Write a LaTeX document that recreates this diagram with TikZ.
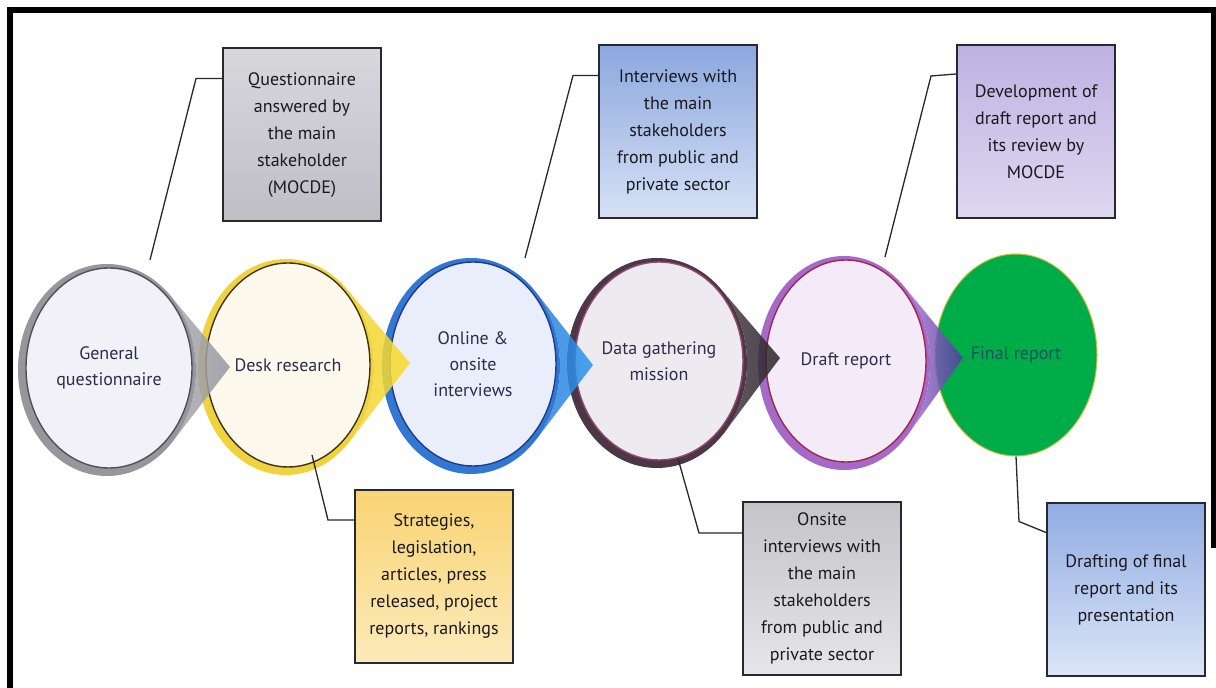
\documentclass[tikz,border=0pt]{standalone}
\usepackage{fontspec}
\setmainfont{PT Sans}
\usetikzlibrary{shapes.geometric}

\definecolor{ringgray}{RGB}{150,150,156}
\definecolor{ringyellow}{RGB}{240,210,60}
\definecolor{ringblue}{RGB}{50,120,210}
\definecolor{ringdark}{RGB}{75,55,70}
\definecolor{ringpurple}{RGB}{165,105,200}
\definecolor{genfill}{RGB}{241,241,247}
\definecolor{deskfill}{RGB}{253,249,236}
\definecolor{onlinefill}{RGB}{234,238,250}
\definecolor{datafill}{RGB}{237,234,240}
\definecolor{draftfill}{RGB}{243,236,248}
\definecolor{finalfill}{RGB}{0,172,72}
\definecolor{genline}{RGB}{80,80,90}
\definecolor{deskline}{RGB}{60,50,30}
\definecolor{onlineline}{RGB}{30,60,140}
\definecolor{dataline}{RGB}{150,70,110}
\definecolor{draftline}{RGB}{160,40,80}
\definecolor{finalline}{RGB}{200,190,60}
\definecolor{stagetext}{RGB}{45,45,75}
\definecolor{finaltext}{RGB}{25,85,90}
\definecolor{boxtext}{RGB}{25,25,30}
\definecolor{boxline}{RGB}{40,40,50}
\definecolor{leadline}{RGB}{40,40,40}

\begin{document}
\begin{tikzpicture}[x=1pt,y=1pt,
  stage/.style={ellipse,draw=#1,line width=1.4pt,inner sep=0pt,align=center,
    text=stagetext,font=\fontsize{18}{26}\selectfont},
  infobox/.style={rectangle,draw=boxline,line width=2pt,minimum width=158pt,
    minimum height=173pt,inner sep=2pt,align=center,text=boxtext,
    font=\fontsize{18}{27}\selectfont},
  leader/.style={draw=leadline,line width=1.3pt},
  tipshade/.style={fill opacity=0.85,draw=none}]
\useasboundingbox (0,0) rectangle (1216,688);
\fill[white] (0,0) rectangle (1216,688);
\draw[line width=6pt] (10,0) -- (10,678) -- (1214,678) -- (1214,140);

\fill[ringgray] (107,318) ellipse (89 and 106);
\node[stage=genline,fill=genfill,minimum width=166pt,minimum height=200pt] (qGen) at (109,320) {General\\questionnaire};
\fill[ringyellow] (286,321) ellipse (88 and 108);
\node[stage=deskline,fill=deskfill,minimum width=164pt,minimum height=204pt] (qDesk) at (288,323) {Desk research};
\fill[ringblue] (471,322) ellipse (89 and 108);
\node[stage=onlineline,fill=onlinefill,minimum width=166pt,minimum height=204pt] (qOnline) at (473,324) {Online \&\\onsite\\interviews};
\fill[ringdark] (657,325) ellipse (90 and 105);
\node[stage=dataline,fill=datafill,minimum width=168pt,minimum height=198pt] (qData) at (659,327) {Data gathering\\mission};
\fill[ringpurple] (844,325) ellipse (86 and 107);
\node[stage=draftline,fill=draftfill,minimum width=160pt,minimum height=202pt] (qDraft) at (846,327) {Draft report};
\node[stage=finalline,fill=finalfill,text=finaltext,line width=1pt,minimum width=162pt,minimum height=202pt] (qFinal) at (1016,333) {Final report};

\shade[tipshade,left color={rgb,255:red,170;green,170;blue,175},right color={rgb,255:red,150;green,150;blue,160}] (171.4,391.2) -- (230,321) -- (171.4,244.8) arc (-43.6:43.6:89 and 106) -- cycle;
\shade[tipshade,left color={rgb,255:red,240;green,212;blue,60},right color={rgb,255:red,250;green,220;blue,40}] (348.5,397.1) -- (410,325) -- (348.5,244.9) arc (-44.8:44.8:88 and 108) -- cycle;
\shade[tipshade,left color={rgb,255:red,50;green,125;blue,215},right color={rgb,255:red,40;green,150;blue,240}] (535.9,395.9) -- (593,323) -- (535.9,248.1) arc (-43.15:43.15:89 and 108) -- cycle;
\shade[tipshade,left color={rgb,255:red,75;green,60;blue,70},right color={rgb,255:red,40;green,35;blue,40}] (722.9,396.6) -- (780,330) -- (722.9,253.4) arc (-42.97:42.97:90 and 105) -- cycle;
\shade[tipshade,left color={rgb,255:red,175;green,120;blue,210},right color={rgb,255:red,80;green,60;blue,160}] (906.2,399.0) -- (963,330) -- (906.2,251.0) arc (-43.72:43.72:86 and 107) -- cycle;

\node[infobox,top color={rgb,255:red,215;green,215;blue,220},bottom color={rgb,255:red,190;green,190;blue,196}] (boxA) at (302,553) {Questionnaire\\answered by\\the main\\stakeholder\\(MOCDE)};
\node[infobox,top color={rgb,255:red,140;green,168;blue,222},bottom color={rgb,255:red,215;green,225;blue,245}] (boxB) at (678,556) {Interviews with\\the main\\stakeholders\\from public and\\private sector};
\node[infobox,top color={rgb,255:red,190;green,178;blue,226},bottom color={rgb,255:red,222;green,216;blue,240}] (boxC) at (1036,556.5) {Development of\\draft report and\\its review by\\MOCDE};
\node[infobox,top color={rgb,255:red,249;green,212;blue,115},bottom color={rgb,255:red,252;green,234;blue,186}] (boxD) at (434,111.5) {Strategies,\\legislation,\\articles, press\\released, project\\reports, rankings};
\node[infobox,top color={rgb,255:red,196;green,196;blue,201},bottom color={rgb,255:red,230;green,230;blue,233}] (boxE) at (822,99.5) {Onsite\\interviews with\\the main\\stakeholders\\from public and\\private sector};
\node[infobox,top color={rgb,255:red,145;green,172;blue,226},bottom color={rgb,255:red,220;green,230;blue,248}] (boxF) at (1126,98) {Drafting of final\\report and its\\presentation};

\coordinate (aEnd) at (150,428);
\coordinate (bEnd) at (525,430);
\coordinate (cEnd) at (885,431);
\coordinate (dEnd) at (312,233);
\draw[leader] ([yshift=-31pt]boxA.north west) -- ++(-26,0) -- (aEnd);
\draw[leader] ([yshift=-31pt]boxB.north west) -- ++(-25,0) -- (bEnd);
\draw[leader] ([yshift=-30pt]boxC.north west) -- ++(-25,-2) -- (cEnd);
\draw[leader] ([yshift=-31pt]boxD.north west) -- ++(-26,0) -- (dEnd);
\draw[leader] ([yshift=-32pt]boxE.north west) -- ++(-43,0) -- (qData.-79);
\draw[leader] ([yshift=-30pt]boxF.north west) -- ++(-27,11) -- (qFinal.south);
\end{tikzpicture}
\end{document}
